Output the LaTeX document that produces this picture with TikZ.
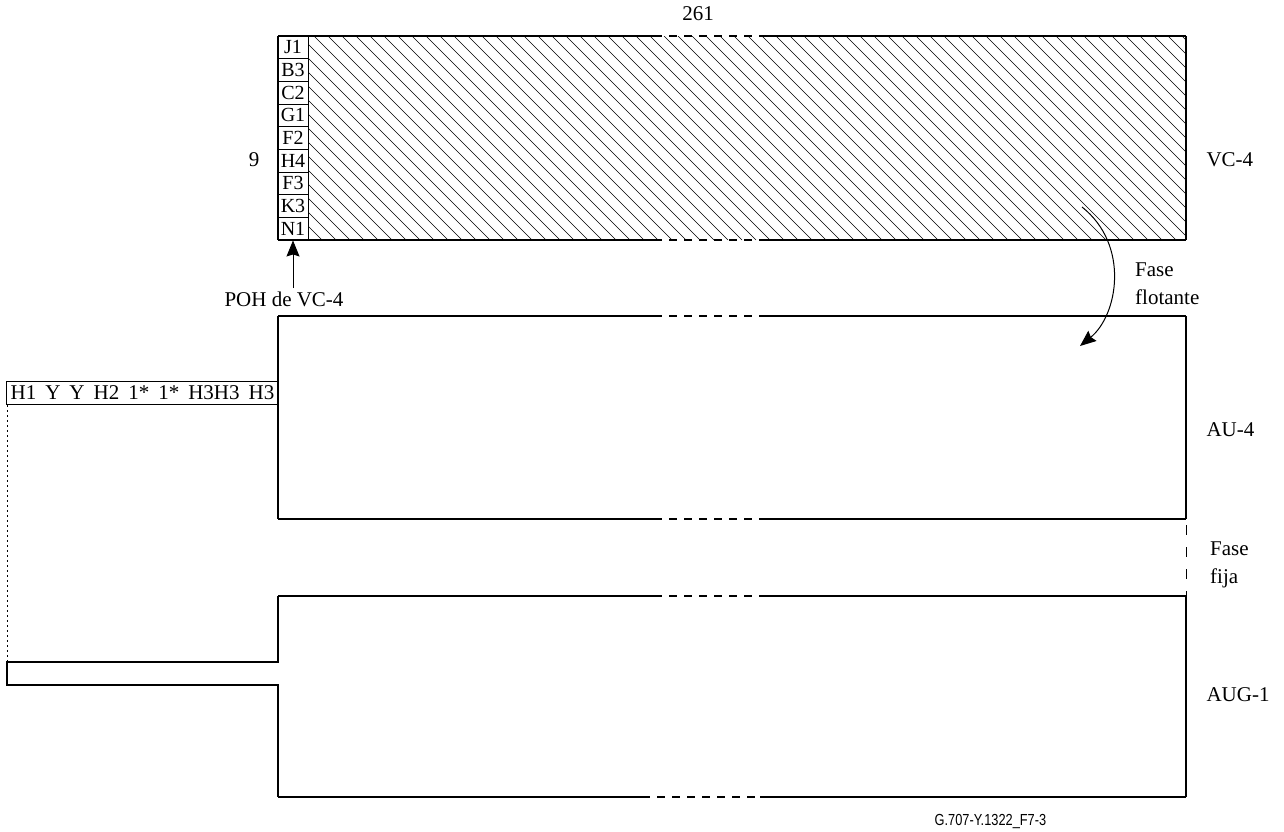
\documentclass[tikz,border=0pt]{standalone}
\usepackage{fontspec}
\setmainfont{Liberation Serif}
\setsansfont{Liberation Sans}
\usetikzlibrary{arrows.meta}
\tikzset{
  frame/.style={line width=1.2pt},
  gapdash/.style={line width=1.2pt,dash pattern=on 8pt off 7pt,dash phase=8pt},
  hatch/.style={line width=0.6pt},
  pohcell/.style={draw,line width=0.9pt,minimum width=30pt,minimum height=22.67pt,inner sep=0pt,font=\fontsize{20}{20}\selectfont},
  bigtip/.style={-{Stealth[length=16pt,width=13pt,inset=2pt]}},
}
\begin{document}
\begin{tikzpicture}[x=1pt,y=-1pt,font=\fontsize{21}{26}\selectfont]
\useasboundingbox (0,0) rectangle (1284,831);

% VC-4 with its hatched payload
\begin{scope}
\clip (308,36) rectangle (1186,240);
\foreach \x in {104,118,...,1190} \draw[hatch] (\x,36) -- ++(204,204);
\end{scope}
\foreach \lab [count=\i] in {J1,B3,C2,G1,F2,H4,F3,K3,N1}
  \node[pohcell] (p\i) at (293,{36+22.667*(\i-0.5)}) {\lab};

% horizontal edges, broken in the middle
\foreach \y in {36,240,316,519,596} {
  \draw[frame] (278,\y) -- (662,\y);
  \draw[gapdash] (662,\y) -- (760,\y);
  \draw[frame] (760,\y) -- (1186,\y);
}
\draw[frame] (278,797) -- (650,797);
\draw[gapdash] (650,797) -- (760,797);
\draw[frame] (760,797) -- (1186,797);

\draw[frame] (278,36) -- (278,240);
\draw[frame] (1186,36) -- (1186,240);
\draw[frame] (278,316) -- (278,519);
\draw[frame] (1186,316) -- (1186,519);
\draw[frame] (1186,596) -- (1186,797);

% AUG-1 with the pointer row
\coordinate (n1) at (7,662);
\coordinate (n2) at (7,685);
\draw[frame] (278,596) -- (278,662) -- (n1) -- (n2) -- (278,685) -- (278,797);

\node[draw,line width=0.9pt,minimum width=272pt,minimum height=23pt,inner sep=0pt,anchor=north west] (ptr) at (6,381)
  {\spaceskip=9pt H1 Y Y H2 1* 1* H3H3 H3};
\draw[line width=0.8pt,dash pattern=on 2pt off 3pt] ([xshift=1pt]ptr.south west) -- (n1);

\draw[line width=1pt,dash pattern=on 10pt off 12pt,dash phase=16pt] (1186,519) -- (1186,596);

% labels
\node (cols) at (698,14) {261};
\node (rows) at (254,160) {9};
\node[anchor=west] (vc) at (1203,160) {VC-4};
\node[anchor=west] (au) at (1203,430) {AU-4};
\node[anchor=west] (aug) at (1203,695) {AUG-1};
\node (poh) at (284,299) {POH de VC-4};
\draw[bigtip,line width=0.8pt] (poh.north -| p9) -- (p9.south);

\node[anchor=north west,align=left,inner sep=0pt,font=\fontsize{21}{28}\selectfont] (flot) at (1135,263) {Fase\\flotante};
\node[anchor=north west,align=left,inner sep=0pt,font=\fontsize{21}{28}\selectfont] (fija) at (1210,542) {Fase\\fija};

\coordinate (fa) at (1082,207);
\coordinate (fb) at (1080,346);
\draw[bigtip,line width=1pt] (fa) .. controls (1130,245) and (1118,315) .. (fb);

\node[anchor=east,font=\sffamily\fontsize{16}{18}\selectfont,xscale=0.8,transform shape] (fig) at (1049,821) {G.707-Y.1322\_F7-3};
\end{tikzpicture}
\end{document}
